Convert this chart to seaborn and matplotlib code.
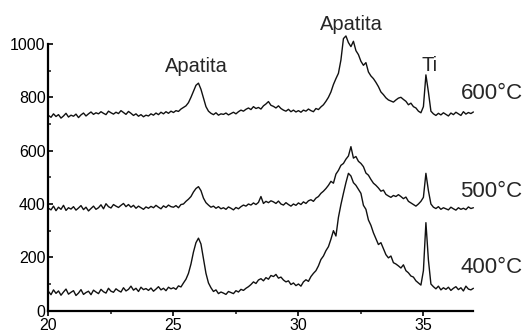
import numpy as np
import pandas as pd
import matplotlib
matplotlib.use("Agg")
import matplotlib.pyplot as plt
from matplotlib.ticker import MultipleLocator
import seaborn as sns

# 2theta grid, 0.1 degree steps from 20 to 37
two_theta = np.round(np.arange(200, 371) / 10.0, 1)

# intensities (offset traces as drawn)
i_400 = [72, 60, 78, 65, 74, 58, 70, 81, 62, 69,
         75, 57, 66, 79, 61, 68, 73, 60, 77, 70,
         64, 80, 71, 66, 84, 73, 69, 82, 75, 70,
         86, 74, 80, 92, 77, 84, 72, 88, 79, 83,
         76, 85, 73, 81, 90, 78, 84, 75, 88, 82,
         86, 80, 93, 89, 104, 118, 140, 175, 220, 255,
         272, 250, 195, 140, 104, 86, 72, 78, 64, 70,
         66, 61, 72, 68, 64, 75, 70, 80, 76, 84,
         90, 98, 108, 102, 115, 120, 112, 124, 118, 132,
         128, 136, 122, 126, 115, 108, 112, 98, 104, 94,
         100, 92, 108, 116, 110, 128, 140, 150, 168, 192,
         205, 225, 240, 268, 300, 280, 350, 398, 440, 480,
         515, 505, 480, 470, 455, 440, 395, 380, 340, 320,
         292, 270, 248, 255, 232, 210, 198, 205, 180, 175,
         168, 160, 172, 150, 142, 130, 126, 112, 104, 96,
         150, 330, 190, 100, 90, 82, 92, 78, 86, 80,
         88, 76, 84, 90, 79, 86, 74, 92, 81, 78,
         84]

i_500 = [384, 378, 392, 375, 388, 380, 395, 376, 386, 381,
         390, 377, 385, 394, 379, 388, 374, 383, 392, 380,
         386, 397, 382, 401, 390, 385, 398, 392, 387, 395,
         402, 390, 398, 388, 395, 384, 392, 386, 380, 389,
         384, 391, 386, 395, 388, 382, 393, 387, 396, 390,
         388, 394, 386, 398, 400, 410, 418, 428, 445, 458,
         465, 450, 422, 405, 396, 388, 392, 384, 390, 382,
         386, 380, 389, 384, 378, 387, 382, 390, 396, 392,
         400, 396, 404, 398, 406, 428, 402, 410, 405, 412,
         408, 402, 411, 400, 396, 405, 398, 392, 400, 395,
         404, 398, 408, 402, 412, 416, 410, 422, 428, 440,
         448, 458, 470, 485, 478, 512, 526, 545, 552, 568,
         580, 615, 572, 578, 560, 552, 540, 516, 508, 492,
         478, 470, 460, 448, 452, 436, 430, 425, 432, 428,
         435, 428, 420, 426, 410, 404, 398, 392, 400, 410,
         425, 515, 450, 400, 388, 383, 390, 380, 386, 382,
         378, 388, 382, 377, 386, 380, 384, 379, 389, 383,
         386]

i_600 = [732, 725, 738, 728, 735, 722, 730, 740, 726, 733,
         729, 737, 724, 734, 741, 730, 738, 745, 736, 742,
         738, 746, 740, 735, 748, 742, 737, 744, 739, 750,
         743, 736, 747, 740, 732, 738, 729, 735, 727, 733,
         730, 738, 733, 741, 735, 744, 738, 746, 740, 748,
         743, 750, 747, 756, 762, 768, 780, 800, 822, 845,
         853, 830, 798, 765, 748, 740, 735, 742, 733, 738,
         736, 741, 734, 739, 744, 738, 746, 752, 748, 755,
         760, 754, 765, 758, 762, 756, 768, 775, 784, 770,
         766, 760, 768, 758, 752, 748, 755, 746, 752, 745,
         750, 744, 752, 748, 756, 750, 746, 758, 754, 764,
         772, 785, 800, 820, 848, 870, 890, 940, 1020, 1030,
         1005, 990, 1010, 975, 960, 935, 920, 930, 895, 880,
         870, 856, 840, 820, 810, 798, 790, 786, 782, 790,
         797, 800, 792, 785, 772, 778, 765, 760, 748, 742,
         765, 884, 820, 748, 738, 732, 740, 734, 742, 736,
         730, 741, 735, 744, 738, 732, 746, 737, 743, 739,
         745]

temps = ["400", "500", "600"]
temp_labels = ["400°C", "500°C", "600°C"]
temp_label_y = [140, 425, 794]
peak_labels = ["Apatita", "Apatita", "Ti"]
peak_x = [25.92, 32.1, 35.23]
peak_y = [895, 1053, 900]
x_ticks = [20, 25, 30, 35]
y_ticks = [0, 200, 400, 600, 800, 1000]

df = pd.concat([
    pd.DataFrame({"2theta": two_theta, "I": i_400, "T": "400"}),
    pd.DataFrame({"2theta": two_theta, "I": i_500, "T": "500"}),
    pd.DataFrame({"2theta": two_theta, "I": i_600, "T": "600"}),
], ignore_index=True)

sns.set_theme(style="ticks")
plt.rcParams["font.family"] = ["Liberation Sans", "DejaVu Sans"]

fig = plt.figure(figsize=(5.26, 3.33), dpi=100)
ax = fig.add_axes([0.0922, 0.067, 0.8078, 0.801])

sns.lineplot(data=df, x="2theta", y="I", hue="T", hue_order=temps,
             palette=["#111111"] * 3, estimator=None, linewidth=1.0,
             legend=False, ax=ax, clip_on=False)

ax.set_xlim(20, 37)
ax.set_ylim(0, 1000)
ax.set_xticks(x_ticks)
ax.set_yticks(y_ticks)
ax.xaxis.set_minor_locator(MultipleLocator(2.5))
ax.yaxis.set_minor_locator(MultipleLocator(100))
ax.set_xlabel("")
ax.set_ylabel("")
sns.despine(ax=ax)
for s in ["left", "bottom"]:
    ax.spines[s].set_linewidth(1.6)
    ax.spines[s].set_color("black")

ax.tick_params(axis="x", which="major", direction="out", length=3.5, width=1.2,
               labelsize=11.5, pad=1.5, colors="black")
ax.tick_params(axis="x", which="minor", direction="out", length=2, width=1.2)
ax.tick_params(axis="y", which="major", direction="in", length=3.5, width=1.2,
               labelsize=11.5, pad=2, colors="black")
ax.tick_params(axis="y", which="minor", direction="in", length=2, width=1.2)

for lab, x, y in zip(peak_labels, peak_x, peak_y):
    ax.text(x, y, lab, ha="center", va="baseline", fontsize=14.5, clip_on=False)
for lab, y in zip(temp_labels, temp_label_y):
    ax.text(36.48, y, lab, ha="left", va="baseline", fontsize=16, clip_on=False)

fig.savefig("out.png", dpi=100)
